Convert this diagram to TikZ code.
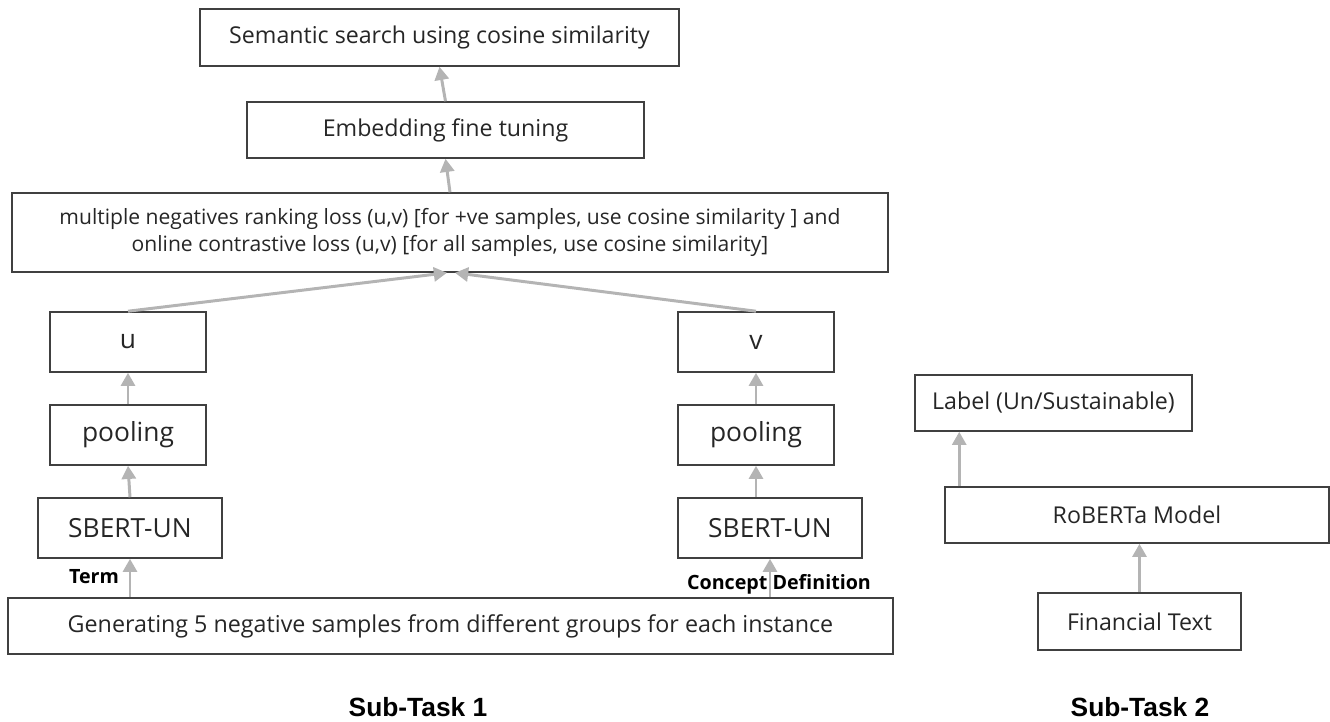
\documentclass[tikz,border=0pt]{standalone}
\usepackage{fontspec}
\setmainfont{Open Sans}
\newfontfamily\arialfont{Liberation Sans}
\usetikzlibrary{arrows.meta}
\definecolor{boxline}{HTML}{404040}
\definecolor{arrowgray}{HTML}{B4B4B4}

\begin{document}
\begin{tikzpicture}[x=0.02cm, y=-0.02cm,
  box/.style={draw=boxline, line width=0.9pt, inner sep=0pt, text=black!85, align=center},
  mid/.style={box, font=\fontsize{13.2}{16}\selectfont},
  big/.style={box, font=\fontsize{15}{18}\selectfont},
  flow/.style={draw=arrowgray, line width=1.7pt, -{Triangle[length=7.5pt, width=8pt]}},
  tag/.style={font=\bfseries\fontsize{11.2}{14}\selectfont, inner sep=0pt},
  task/.style={font=\arialfont\bfseries\fontsize{15}{18}\selectfont, inner sep=0pt}]
  \useasboundingbox (0,0) rectangle (1330,721);

  % Sub-Task 1
  \node[mid, minimum width=9.58cm, minimum height=1.14cm] (search) at (439.5,37.5)
    {Semantic search using cosine similarity};
  \node[mid, minimum width=7.94cm, minimum height=1.12cm] (finetune) at (445.5,130)
    {Embedding fine tuning};
  \node[box, font=\fontsize{12}{15.3}\selectfont, minimum width=17.52cm, minimum height=1.58cm] (loss) at (450,232.5)
    {multiple negatives ranking loss (u,v) [for +ve samples, use cosine similarity ] and\\
     online contrastive loss (u,v) [for all samples, use cosine similarity]};
  \node[big, minimum width=3.12cm, minimum height=1.2cm] (u) at (128,342) {u};
  \node[big, minimum width=3.12cm, minimum height=1.2cm] (v) at (756,342) {v};
  \node[big, minimum width=3.12cm, minimum height=1.2cm] (poolu) at (128,435) {pooling};
  \node[big, minimum width=3.12cm, minimum height=1.2cm] (poolv) at (756,435) {pooling};
  \node[big, minimum width=3.68cm, minimum height=1.2cm] (sbertu) at (130,528) {SBERT-UN};
  \node[big, minimum width=3.68cm, minimum height=1.2cm] (sbertv) at (770,528) {SBERT-UN};
  \node[mid, font=\fontsize{13.25}{16}\selectfont, minimum width=17.7cm, minimum height=1.12cm] (negatives) at (450.5,626)
    {Generating 5 negative samples from different groups for each instance};
  \node[tag] (term) at (94,577) {Term};
  \node[tag] (concept) at (779,584) {Concept Definition};

  % Sub-Task 2
  \node[mid, minimum width=5.54cm, minimum height=1.12cm] (label) at (1053.5,403)
    {Label (Un/Sustainable)};
  \node[mid, minimum width=7.68cm, minimum height=1.12cm] (roberta) at (1137,515)
    {RoBERTa Model};
  \node[mid, minimum width=4.06cm, minimum height=1.14cm] (fintext) at (1139.5,621.5)
    {Financial Text};
  \coordinate (robtop) at ([xshift=0.3cm]roberta.north west);

  \node[task] (task1) at (418,707) {Sub-Task 1};
  \node[task] (task2) at (1140,707) {Sub-Task 2};

  \draw[flow] (sbertu.south |- negatives.north) -- (sbertu.south);
  \draw[flow] (sbertv.south |- negatives.north) -- (sbertv.south);
  \draw[flow] (sbertu.north) -- (poolu.south);
  \draw[flow] (sbertv.north -| poolv.south) -- (poolv.south);
  \draw[flow] (poolu.north) -- (u.south);
  \draw[flow] (poolv.north) -- (v.south);
  \draw[flow] (u.north) -- ([xshift=-0.06cm]loss.south);
  \draw[flow] (v.north) -- ([xshift=0.1cm]loss.south);
  \draw[flow] (loss.north) -- (finetune.south);
  \draw[flow] (finetune.north) -- (search.south);
  \draw[flow] (fintext.north) -- (fintext.north |- roberta.south);
  \draw[flow] (robtop) -- (robtop |- label.south);
\end{tikzpicture}
\end{document}
